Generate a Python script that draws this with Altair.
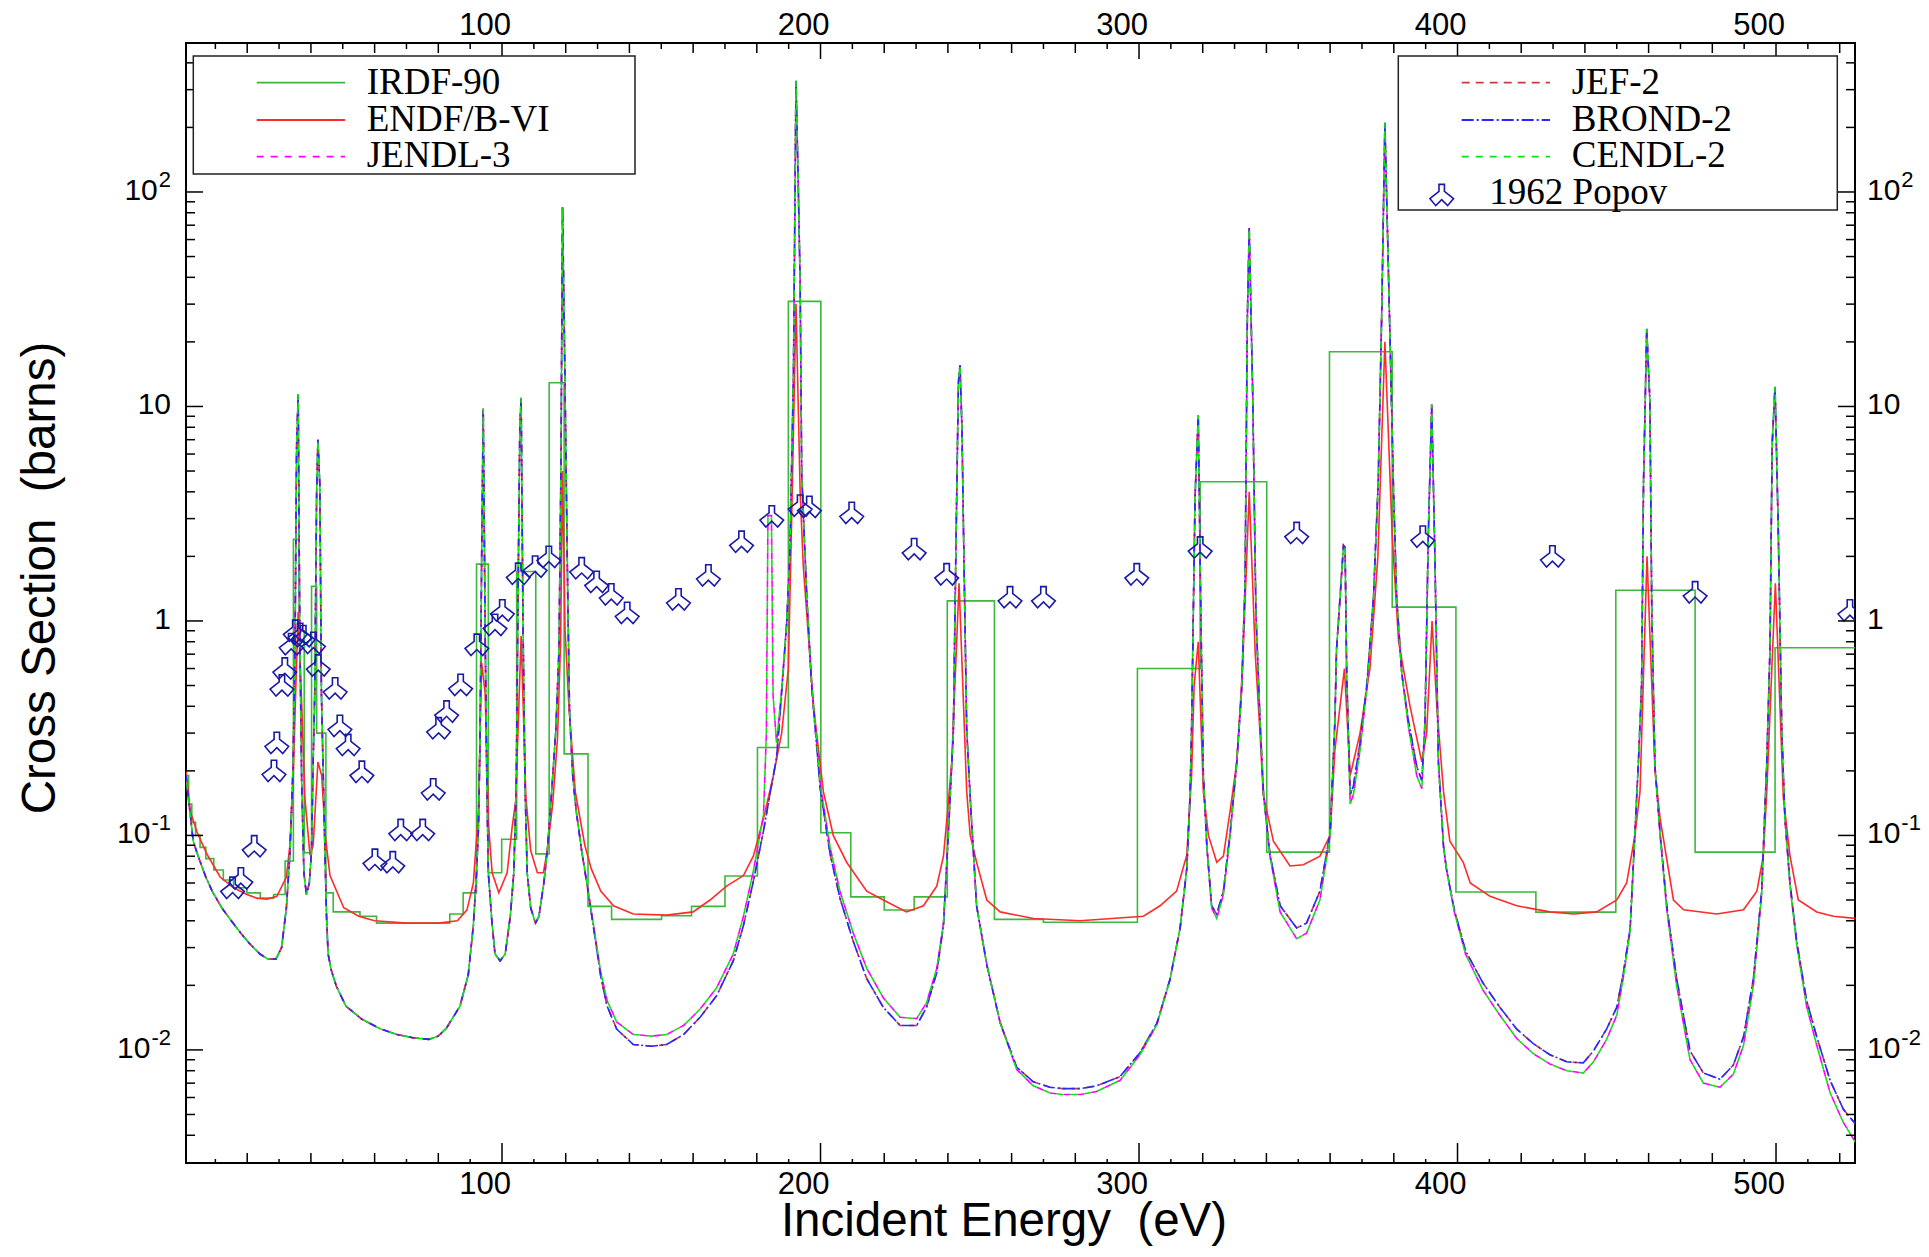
import altair as alt
import pandas as pd

W, H = 1669, 1120
X_DOMAIN = [0.78, 524.8]
Y_DOMAIN = [0.00297, 495.0]
SANS = "Liberation Sans"
SERIF = "Liberation Serif"

# ---------------- data ----------------
IRDF90_EDGES = [0.78, 1.6, 2.6, 3.8, 5.2, 7.0, 9.5, 12.5, 15.7, 19.9,
                24.1, 28.3, 31.9, 34.5, 36.3, 37.9, 40.2, 41.8, 44.7, 47.0,
                55.4, 60.6, 83.6, 87.8, 92.0, 95.7, 99.9, 104.6, 110.6, 114.8,
                119.5, 127.0, 134.4, 150.1, 159.5, 170.0, 180.2, 189.9, 200.1, 209.5,
                220.0, 229.4, 239.8, 254.6, 270.0, 299.5, 319.2, 340.1, 359.8, 379.5,
                399.5, 424.6, 449.7, 474.6, 499.7, 524.8]
IRDF90_VALUES = [0.19, 0.14, 0.115, 0.10, 0.088, 0.078, 0.069, 0.062, 0.057, 0.054,
                 0.051, 0.053, 0.076, 2.4, 0.9, 0.083, 1.45, 0.30, 0.054, 0.044,
                 0.042, 0.039, 0.043, 0.054, 1.84, 0.067, 0.096, 1.7, 0.082, 12.9,
                 0.24, 0.0467, 0.0406, 0.0422, 0.0467, 0.0647, 0.257, 30.9, 0.103, 0.0517,
                 0.0449, 0.0517, 1.24, 0.0406, 0.0394, 0.60, 4.46, 0.0836, 18.0, 1.16,
                 0.0545, 0.0439, 1.39, 0.0836, 0.75]

ENDF_B6 = [(0.78, 0.20), (2.1, 0.13), (4.2, 0.104), (7.3, 0.082), (11.5, 0.064), (15.7, 0.057),
           (19.9, 0.053), (23.0, 0.051), (26.2, 0.0505), (29.3, 0.052), (32.3, 0.064), (33.4, 0.09),
           (34.4, 0.176), (35.2, 0.46), (36.0, 1.1), (37.1, 0.41), (38.1, 0.15), (39.7, 0.081),
           (40.7, 0.09), (42.2, 0.22), (43.4, 0.19), (44.5, 0.10), (46.0, 0.065), (50.3, 0.046),
           (55.0, 0.042), (60.0, 0.040), (70.0, 0.039), (80.0, 0.039), (86.0, 0.040), (89.0, 0.045),
           (91.0, 0.060), (92.6, 0.13), (93.6, 0.64), (94.7, 0.46), (95.8, 0.11), (96.9, 0.067),
           (99.0, 0.054), (101.6, 0.067), (103.2, 0.11), (104.3, 0.145), (106.0, 0.85), (107.5, 0.15),
           (109.0, 0.085), (111.1, 0.067), (113.0, 0.067), (114.2, 0.085), (115.9, 0.14), (117.4, 0.28),
           (118.4, 0.8), (119.0, 5.0), (119.8, 0.9), (121.0, 0.4), (123.0, 0.16), (126.0, 0.09),
           (128.0, 0.07), (131.0, 0.055), (135.0, 0.047), (141.2, 0.043), (151.7, 0.0425), (160.0, 0.044),
           (165.3, 0.050), (170.5, 0.058), (175.8, 0.065), (178.9, 0.080), (182.1, 0.12), (185.2, 0.19),
           (187.8, 0.30), (189.9, 0.60), (191.0, 3.3), (192.3, 30.0), (193.6, 4.0), (194.6, 1.8),
           (197.8, 0.40), (200.9, 0.16), (204.0, 0.10), (208.2, 0.075), (214.5, 0.055), (219.7, 0.050),
           (227.0, 0.044), (232.3, 0.047), (236.5, 0.058), (238.6, 0.080), (240.1, 0.14), (241.2, 0.22),
           (243.5, 1.5), (245.9, 0.16), (247.0, 0.10), (249.0, 0.075), (252.2, 0.050), (256.4, 0.044),
           (266.8, 0.041), (281.5, 0.040), (301.4, 0.042), (306.6, 0.047), (311.8, 0.055), (315.0, 0.081),
           (316.5, 0.19), (317.3, 0.5), (318.6, 0.8), (320.2, 0.16), (321.8, 0.10), (324.4, 0.075),
           (326.5, 0.080), (328.6, 0.13), (330.7, 0.22), (332.5, 0.6), (334.6, 4.0), (336.5, 0.7),
           (338.0, 0.30), (339.0, 0.155), (342.2, 0.094), (347.4, 0.072), (351.6, 0.073), (356.8, 0.080),
           (360.0, 0.10), (361.5, 0.25), (364.5, 0.6), (366.3, 0.19), (369.4, 0.30), (372.5, 0.6),
           (375.0, 2.0), (377.2, 20.0), (379.5, 2.5), (381.5, 0.8), (385.1, 0.40), (388.8, 0.22),
           (390.3, 0.30), (392.0, 1.0), (393.5, 0.4), (395.6, 0.16), (397.6, 0.094), (401.8, 0.075),
           (404.0, 0.060), (410.2, 0.052), (418.6, 0.047), (429.0, 0.044), (436.4, 0.043), (443.7, 0.044),
           (450.0, 0.050), (453.1, 0.060), (455.7, 0.10), (457.3, 0.16), (459.5, 2.0), (462.0, 0.20),
           (463.6, 0.12), (467.8, 0.050), (471.0, 0.045), (481.4, 0.043), (489.8, 0.045), (494.0, 0.055),
           (496.0, 0.080), (497.1, 0.16), (499.8, 1.5), (502.3, 0.15), (504.4, 0.080), (507.0, 0.050),
           (512.8, 0.044), (518.0, 0.042), (525.0, 0.041)]

JEF2_BROND2 = [(0.78, 0.19), (1.5, 0.15), (2.0, 0.13), (3.0, 0.095), (4.0, 0.085), (5.0, 0.077),
               (7.0, 0.064), (9.0, 0.055), (12.0, 0.046), (15.0, 0.040), (18.0, 0.035), (21.0, 0.031),
               (24.0, 0.028), (26.5, 0.0265), (29.0, 0.0265), (30.8, 0.030), (32.3, 0.046), (33.4, 0.082),
               (34.4, 0.21), (35.0, 0.74), (35.5, 6.4), (36.0, 11.4), (36.5, 0.9), (37.1, 0.18),
               (37.8, 0.067), (38.6, 0.053), (39.5, 0.060), (40.2, 0.085), (40.7, 0.22), (41.2, 0.46),
               (41.8, 4.0), (42.2, 7.0), (42.8, 4.3), (43.3, 0.46), (44.4, 0.085), (44.9, 0.042),
               (45.4, 0.028), (46.4, 0.0235), (48.0, 0.0198), (51.0, 0.016), (56.0, 0.0139), (61.5, 0.0126),
               (67.0, 0.0118), (72.0, 0.0114), (77.0, 0.0112), (80.0, 0.0116), (82.5, 0.0126), (86.8, 0.016),
               (89.4, 0.0224), (91.0, 0.038), (92.0, 0.067), (92.6, 0.108), (93.1, 0.28), (93.6, 1.9),
               (94.1, 9.8), (94.7, 0.9), (95.2, 0.2), (95.7, 0.067), (96.8, 0.040), (97.8, 0.028),
               (99.4, 0.026), (101.0, 0.028), (102.6, 0.042), (103.7, 0.067), (104.5, 0.18), (105.0, 1.2),
               (105.6, 8.0), (106.0, 11.0), (106.6, 0.94), (107.2, 0.18), (107.9, 0.067), (109.0, 0.046),
               (110.5, 0.039), (111.6, 0.042), (113.2, 0.061), (114.2, 0.085), (115.3, 0.138), (116.9, 0.31),
               (117.9, 0.74), (118.5, 5.0), (119.0, 85.0), (119.6, 20.0), (120.6, 1.45), (121.2, 0.38),
               (122.2, 0.19), (123.3, 0.13), (125.0, 0.085), (127.0, 0.055), (129.0, 0.035), (131.0, 0.022),
               (133.0, 0.016), (136.0, 0.0125), (141.2, 0.0106), (147.0, 0.0104), (151.7, 0.0106), (157.0, 0.0118),
               (162.2, 0.0142), (167.4, 0.0179), (172.6, 0.026), (175.8, 0.038), (178.9, 0.061), (182.1, 0.105),
               (184.1, 0.155), (186.2, 0.23), (187.8, 0.46), (189.4, 0.99), (190.4, 2.1), (191.5, 14.0),
               (192.3, 330.0), (193.0, 110.0), (193.6, 38.0), (194.1, 4.8), (195.7, 1.28), (197.2, 0.5),
               (199.9, 0.166), (203.0, 0.082), (206.1, 0.051), (210.3, 0.032), (214.5, 0.0215), (219.7, 0.0158),
               (225.0, 0.013), (230.2, 0.013), (233.3, 0.0158), (236.5, 0.023), (238.6, 0.038), (240.1, 0.10),
               (241.7, 0.30), (242.5, 2.1), (243.3, 13.0), (243.8, 15.6), (244.4, 8.0), (244.9, 2.6),
               (245.9, 0.31), (247.0, 0.15), (249.0, 0.047), (252.2, 0.025), (256.4, 0.0134), (261.6, 0.0083),
               (266.8, 0.0071), (272.0, 0.0067), (276.0, 0.0066), (281.5, 0.0066), (286.7, 0.0068), (294.0, 0.0075),
               (300.3, 0.0097), (305.6, 0.0133), (309.7, 0.0213), (312.9, 0.037), (315.0, 0.070), (316.0, 0.15),
               (316.5, 0.31), (317.6, 3.8), (318.6, 9.1), (319.4, 1.09), (320.2, 0.19), (321.3, 0.089),
               (322.8, 0.047), (324.4, 0.043), (326.5, 0.055), (328.6, 0.103), (330.7, 0.22), (332.2, 0.47),
               (333.3, 1.5), (334.0, 25.0), (334.6, 68.0), (335.7, 11.4), (336.7, 1.09), (338.0, 0.34),
               (339.1, 0.155), (341.1, 0.082), (344.3, 0.047), (349.5, 0.037), (352.6, 0.039), (356.8, 0.055),
               (360.0, 0.103), (361.5, 0.34), (362.0, 0.73), (363.1, 1.27), (364.2, 2.25), (364.7, 2.2),
               (365.2, 0.57), (366.3, 0.155), (367.3, 0.17), (369.4, 0.27), (371.5, 0.5), (373.6, 1.27),
               (375.1, 4.4), (376.2, 27.0), (377.2, 210.0), (378.8, 21.0), (379.9, 4.1), (380.9, 1.27),
               (382.5, 0.57), (384.6, 0.34), (387.2, 0.21), (388.8, 0.18), (389.8, 0.34), (390.8, 2.4),
               (391.9, 10.2), (392.9, 2.0), (394.0, 0.22), (395.6, 0.089), (396.5, 0.07), (399.0, 0.045),
               (402.5, 0.029), (408.0, 0.0205), (413.3, 0.0158), (418.6, 0.0125), (423.8, 0.0107), (429.0, 0.0095),
               (434.3, 0.0088), (439.5, 0.0087), (442.7, 0.0099), (446.8, 0.0125), (450.0, 0.0158), (452.1, 0.023),
               (454.2, 0.037), (455.7, 0.103), (456.8, 0.22), (457.8, 0.5), (458.4, 4.4), (459.4, 23.0),
               (460.4, 10.6), (461.0, 1.1), (462.0, 0.21), (463.6, 0.103), (465.7, 0.047), (468.8, 0.0215),
               (473.0, 0.0099), (477.2, 0.0078), (482.4, 0.0073), (486.6, 0.0085), (489.8, 0.0115), (492.9, 0.0215),
               (495.5, 0.055), (497.1, 0.22), (498.1, 0.73), (498.8, 6.7), (499.7, 12.4), (500.7, 2.7),
               (501.8, 0.31), (502.8, 0.12), (504.4, 0.060), (506.5, 0.032), (509.6, 0.017), (512.8, 0.0115),
               (517.0, 0.0072), (521.1, 0.0053), (525.0, 0.0045)]

JENDL3_CENDL2 = [(0.78, 0.19), (1.5, 0.15), (2.0, 0.13), (3.0, 0.095), (4.0, 0.085), (5.0, 0.077),
                 (7.0, 0.064), (9.0, 0.055), (12.0, 0.046), (15.0, 0.040), (18.0, 0.035), (21.0, 0.031),
                 (24.0, 0.028), (26.5, 0.0265), (29.0, 0.0265), (30.8, 0.030), (32.3, 0.046), (33.4, 0.082),
                 (34.4, 0.21), (35.0, 0.74), (35.5, 6.4), (36.0, 11.4), (36.5, 0.9), (37.1, 0.18),
                 (37.8, 0.067), (38.6, 0.053), (39.5, 0.060), (40.2, 0.085), (40.7, 0.22), (41.2, 0.46),
                 (41.8, 4.0), (42.2, 7.0), (42.8, 4.3), (43.3, 0.46), (44.4, 0.085), (44.9, 0.042),
                 (45.4, 0.028), (46.4, 0.0235), (48.0, 0.0198), (51.0, 0.016), (56.0, 0.0139), (61.5, 0.0126),
                 (67.0, 0.0118), (72.0, 0.0114), (77.0, 0.0112), (80.0, 0.0116), (82.5, 0.0126), (86.8, 0.016),
                 (89.4, 0.0224), (91.0, 0.038), (92.0, 0.067), (92.6, 0.108), (93.1, 0.28), (93.6, 1.9),
                 (94.1, 9.8), (94.7, 0.9), (95.2, 0.2), (95.7, 0.067), (96.8, 0.040), (97.8, 0.028),
                 (99.4, 0.026), (101.0, 0.028), (102.6, 0.042), (103.7, 0.067), (104.5, 0.18), (105.0, 1.2),
                 (105.6, 8.0), (106.0, 11.0), (106.6, 0.94), (107.2, 0.18), (107.9, 0.067), (109.0, 0.046),
                 (110.5, 0.039), (111.6, 0.042), (113.2, 0.061), (114.2, 0.085), (115.3, 0.138), (116.9, 0.31),
                 (117.9, 0.74), (118.5, 5.0), (119.0, 85.0), (119.6, 20.0), (120.6, 1.45), (121.2, 0.38),
                 (122.2, 0.19), (123.3, 0.13), (125.0, 0.085), (127.0, 0.056), (129.0, 0.036), (131.0, 0.023),
                 (133.0, 0.017), (136.0, 0.0135), (141.2, 0.0118), (147.0, 0.0116), (151.7, 0.0118), (157.0, 0.013),
                 (162.2, 0.0155), (167.4, 0.0195), (172.6, 0.028), (175.8, 0.042), (178.9, 0.068), (182.1, 0.125),
                 (183.0, 0.30), (183.5, 3.1), (184.6, 3.1), (185.1, 0.45), (186.2, 0.27), (187.8, 0.48),
                 (189.4, 0.99), (190.4, 2.1), (191.5, 14.0), (192.3, 330.0), (193.0, 110.0), (193.6, 38.0),
                 (194.1, 4.8), (195.7, 1.28), (197.2, 0.52), (199.9, 0.175), (203.0, 0.088), (206.1, 0.055),
                 (210.3, 0.035), (214.5, 0.024), (219.7, 0.0175), (225.0, 0.0142), (230.2, 0.014), (233.3, 0.0166),
                 (236.5, 0.024), (238.6, 0.039), (240.1, 0.10), (241.7, 0.30), (242.5, 2.1), (243.3, 13.0),
                 (243.8, 15.6), (244.4, 8.0), (244.9, 2.6), (245.9, 0.31), (247.0, 0.15), (249.0, 0.047),
                 (252.2, 0.025), (256.4, 0.0134), (261.6, 0.0081), (266.8, 0.0068), (272.0, 0.0063), (276.0, 0.0062),
                 (281.5, 0.0062), (286.7, 0.0064), (294.0, 0.0072), (300.3, 0.0095), (305.6, 0.0131), (309.7, 0.0211),
                 (312.9, 0.037), (315.0, 0.070), (316.0, 0.15), (316.5, 0.31), (317.6, 3.8), (318.6, 9.1),
                 (319.4, 1.09), (320.2, 0.19), (321.3, 0.089), (322.8, 0.046), (324.4, 0.041), (326.5, 0.053),
                 (328.6, 0.10), (330.7, 0.22), (332.2, 0.47), (333.3, 1.5), (334.0, 25.0), (334.6, 68.0),
                 (335.7, 11.4), (336.7, 1.09), (338.0, 0.34), (339.1, 0.155), (341.1, 0.080), (344.3, 0.044),
                 (349.5, 0.033), (352.6, 0.035), (356.8, 0.050), (360.0, 0.10), (361.5, 0.34), (362.0, 0.73),
                 (363.1, 1.27), (364.2, 2.25), (364.7, 2.2), (365.2, 0.57), (366.3, 0.14), (367.3, 0.155),
                 (369.4, 0.25), (371.5, 0.48), (373.6, 1.27), (375.1, 4.4), (376.2, 27.0), (377.2, 210.0),
                 (378.8, 21.0), (379.9, 4.1), (380.9, 1.27), (382.5, 0.57), (384.6, 0.32), (387.2, 0.19),
                 (388.8, 0.165), (389.8, 0.34), (390.8, 2.4), (391.9, 10.2), (392.9, 2.0), (394.0, 0.22),
                 (395.6, 0.089), (396.5, 0.07), (399.0, 0.044), (402.5, 0.028), (408.0, 0.019), (413.3, 0.0145),
                 (418.6, 0.0113), (423.8, 0.0096), (429.0, 0.0086), (434.3, 0.0080), (439.5, 0.0078), (442.7, 0.0088),
                 (446.8, 0.0112), (450.0, 0.0145), (452.1, 0.022), (454.2, 0.036), (455.7, 0.103), (456.8, 0.22),
                 (457.8, 0.5), (458.4, 4.4), (459.4, 23.0), (460.4, 10.6), (461.0, 1.1), (462.0, 0.21),
                 (463.6, 0.10), (465.7, 0.045), (468.8, 0.020), (473.0, 0.0090), (477.2, 0.0070), (482.4, 0.0067),
                 (486.6, 0.0077), (489.8, 0.0105), (492.9, 0.020), (495.5, 0.053), (497.1, 0.22), (498.1, 0.73),
                 (498.8, 6.7), (499.7, 12.4), (500.7, 2.7), (501.8, 0.31), (502.8, 0.12), (504.4, 0.058),
                 (506.5, 0.031), (509.6, 0.016), (512.8, 0.0105), (517.0, 0.0063), (521.1, 0.0046), (525.0, 0.0037)]

POPOV_E = [15.4, 18.0, 22.2, 28.4, 29.3, 30.9, 31.8, 33.8, 35.1, 36.6,
           37.6, 40.8, 42.3, 47.6, 49.1, 51.7, 56.0, 60.1, 65.7, 68.2,
           75.1, 78.4, 80.1, 82.6, 87.0, 92.1, 97.8, 100.1, 105.1, 110.4,
           114.7, 125.0, 129.7, 134.3, 139.3, 155.4, 164.8, 175.2, 184.7, 193.6,
           196.5, 209.8, 229.4, 239.6, 259.5, 270.0, 299.3, 319.2, 349.5, 389.1,
           429.8, 474.6, 523.2]
POPOV_S = [0.057, 0.063, 0.089, 0.20, 0.27, 0.50, 0.60, 0.78, 0.90, 0.87,
           0.85, 0.79, 0.62, 0.485, 0.324, 0.264, 0.198, 0.077, 0.075, 0.106,
           0.106, 0.164, 0.316, 0.378, 0.503, 0.774, 0.958, 1.12, 1.66, 1.79,
           1.99, 1.76, 1.52, 1.33, 1.09, 1.26, 1.63, 2.34, 3.07, 3.45,
           3.40, 3.19, 2.16, 1.65, 1.29, 1.29, 1.65, 2.20, 2.57, 2.47,
           2.00, 1.36, 1.12]

X_MAJOR = [100, 200, 300, 400, 500]
X_MEDIUM = [v for v in range(20, 525, 20) if v % 100 != 0]
X_MINOR = list(range(10, 525, 20))
Y_MAJOR = [0.01, 0.1, 1, 10, 100]
Y_MINOR = [m * d for d in (0.001, 0.01, 0.1, 1, 10, 100) for m in range(2, 10)
           if Y_DOMAIN[0] * 1.05 < m * d < Y_DOMAIN[1]]
Y_LABELS = [(100, "10", "2"), (10, "10", ""), (1, "1", ""), (0.1, "10", "-1"), (0.01, "10", "-2")]

LEGEND_LEFT = [("IRDF-90", "#3cb83c", None), ("ENDF/B-VI", "#ff2a2a", None), ("JENDL-3", "#ff00ff", [7, 7])]
LEGEND_RIGHT = [("JEF-2", "#c83c3c", [8, 6]), ("BROND-2", "#2828ff", [12, 3, 2, 3]), ("CENDL-2", "#10e010", [7, 7])]
POPOV_COLOR = "#1a1aa8"
MARKER = "M -0.23 -0.9 L 0.23 -0.9 L 0.23 -0.3 L 1 0.3 L 0.5 0.9 L 0 0.4 L -0.5 0.9 L -1 0.3 L -0.23 -0.3 Z"
MARKER_SIZE = 560

assert len(IRDF90_EDGES) == len(IRDF90_VALUES) + 1
assert len(POPOV_E) == len(POPOV_S)

# ---------------- chart ----------------
xs = alt.Scale(domain=X_DOMAIN, nice=False, zero=False)
ys = alt.Scale(type="log", domain=Y_DOMAIN, nice=False)


def X():
    return alt.X("E:Q", scale=xs, axis=None)


def Y():
    return alt.Y("S:Q", scale=ys, axis=None)


ONE = pd.DataFrame({"k": [0]})


def curve(df, color, dash=None, offset=0, width=1.6, interp="linear"):
    kw = dict(color=color, strokeWidth=width, clip=True, interpolate=interp)
    if dash:
        kw["strokeDash"] = dash
        kw["strokeDashOffset"] = offset
    return alt.Chart(df).mark_line(**kw).encode(x=X(), y=Y())


def pairs(p):
    return pd.DataFrame(p, columns=["E", "S"])


irdf_df = pd.DataFrame({"E": IRDF90_EDGES, "S": IRDF90_VALUES + [IRDF90_VALUES[-1]]})

layers = [
    curve(irdf_df, "#3cb83c", interp="step-after"),
    curve(pairs(ENDF_B6), "#ff2a2a"),
    curve(pairs(JENDL3_CENDL2), "#ff00ff", dash=[7, 7], offset=0),
    curve(pairs(JEF2_BROND2), "#c83c3c", dash=[8, 6], offset=0),
    curve(pairs(JEF2_BROND2), "#2828ff", dash=[12, 3, 2, 3], offset=7),
    curve(pairs(JENDL3_CENDL2), "#10e010", dash=[7, 7], offset=7),
    alt.Chart(pd.DataFrame({"E": POPOV_E, "S": POPOV_S})).mark_point(
        shape=MARKER, size=MARKER_SIZE, filled=False, color=POPOV_COLOR, strokeWidth=1.6, clip=True, opacity=1
    ).encode(x=X(), y=Y()),
]


def xtick(vals, length, top):
    return alt.Chart(pd.DataFrame({"E": vals})).mark_rule(color="black", strokeWidth=1.5).encode(
        x=X(), y=alt.value(0 if top else H), y2=alt.value(length if top else H - length))


def ytick(vals, length, right):
    return alt.Chart(pd.DataFrame({"S": vals})).mark_rule(color="black", strokeWidth=1.5).encode(
        y=Y(), x=alt.value(W if right else 0), x2=alt.value(W - length if right else length))


for top in (False, True):
    layers += [xtick(X_MAJOR, 20 if not top else 16, top), xtick(X_MEDIUM, 10, top), xtick(X_MINOR, 4 if not top else 6, top)]
for right in (False, True):
    layers += [ytick(Y_MAJOR, 17, right), ytick(Y_MINOR, 9, right)]

xl = pd.DataFrame({"E": X_MAJOR, "t": [str(v) for v in X_MAJOR]})
for top in (False, True):
    layers.append(alt.Chart(xl).mark_text(font=SANS, fontSize=31, align="center", baseline="middle",
                                          dx=-17, color="black").encode(
        x=X(), y=alt.value(-17 if top else H + 22), text="t:N"))


def textw(s, size):
    w = 0.0
    for ch in s:
        w += 0.333 if ch == "-" else 0.556
    return w * size


BASE_FS, SUP_FS = 30, 22
for val, base, sup in Y_LABELS:
    df = pd.DataFrame({"S": [val], "b": [base], "p": [sup]})
    # left side
    end = -15
    if sup:
        sx = end - textw(sup, SUP_FS)
        layers.append(alt.Chart(df).mark_text(font=SANS, fontSize=SUP_FS, align="left", baseline="middle",
                                              dy=-12, color="black").encode(y=Y(), x=alt.value(sx), text="p:N"))
        bx = sx - 1
    else:
        bx = end
    layers.append(alt.Chart(df).mark_text(font=SANS, fontSize=BASE_FS, align="right", baseline="middle",
                                          dy=-1, color="black").encode(y=Y(), x=alt.value(bx), text="b:N"))
    # right side
    rx = W + 12
    layers.append(alt.Chart(df).mark_text(font=SANS, fontSize=BASE_FS, align="left", baseline="middle",
                                          dy=-1, color="black").encode(y=Y(), x=alt.value(rx), text="b:N"))
    if sup:
        layers.append(alt.Chart(df).mark_text(font=SANS, fontSize=SUP_FS, align="left", baseline="middle",
                                              dy=-12, color="black").encode(
            y=Y(), x=alt.value(rx + textw(base, BASE_FS) + 1), text="p:N"))

# axis titles
layers.append(alt.Chart(ONE).mark_text(text="Cross Section\u00a0 (barns)", font=SANS, fontSize=47.5, angle=270,
                                       align="center", baseline="alphabetic", color="black").encode(
    x=alt.value(-131), y=alt.value(535)))
layers.append(alt.Chart(ONE).mark_text(text="Incident Energy\u00a0 (eV)", font=SANS, fontSize=47.5,
                                       align="center", baseline="alphabetic", color="black").encode(
    x=alt.value(818), y=alt.value(H + 73)))


# legends
def box(x1, x2, y1, y2):
    return alt.Chart(ONE).mark_rect(fill="white", stroke="#222222", strokeWidth=1.5).encode(
        x=alt.value(x1), x2=alt.value(x2), y=alt.value(y1), y2=alt.value(y2))


def legend_rows(entries, x_line0, x_line1, x_text):
    out = []
    ys_line = [39.7, 77.0, 113.7]
    ys_text = [50.5, 88.0, 124.0]
    for (name, color, dash), yl, yt in zip(entries, ys_line, ys_text):
        kw = dict(color=color, strokeWidth=1.8)
        if dash:
            kw["strokeDash"] = dash
        out.append(alt.Chart(ONE).mark_rule(**kw).encode(x=alt.value(x_line0), x2=alt.value(x_line1), y=alt.value(yl)))
        out.append(alt.Chart(ONE).mark_text(text=name, font=SERIF, fontSize=37, align="left",
                                            baseline="alphabetic", color="black").encode(
            x=alt.value(x_text), y=alt.value(yt)))
    return out


layers.append(box(7.3, 449, 13, 131))
layers += legend_rows(LEGEND_LEFT, 70.7, 159, 180.7)
layers.append(box(1212.3, 1651.3, 13, 167))
layers += legend_rows(LEGEND_RIGHT, 1275.7, 1364, 1385.7)
layers.append(alt.Chart(ONE).mark_point(shape=MARKER, size=MARKER_SIZE, filled=False, color=POPOV_COLOR,
                                        strokeWidth=1.6, opacity=1).encode(x=alt.value(1255.7), y=alt.value(152)))
layers.append(alt.Chart(ONE).mark_text(text="1962 Popov", font=SERIF, fontSize=37, align="left",
                                       baseline="alphabetic", color="black").encode(
    x=alt.value(1303.3), y=alt.value(160.5)))

chart = alt.layer(*layers).properties(
    width=W, height=H,
    padding={"left": 178, "top": 35, "right": 66, "bottom": 83},
    autosize=alt.AutoSizeParams(type="none"),
).configure_view(stroke="black", strokeWidth=2)

chart.save("out.html", embed_options={"renderer": "svg", "actions": False})
